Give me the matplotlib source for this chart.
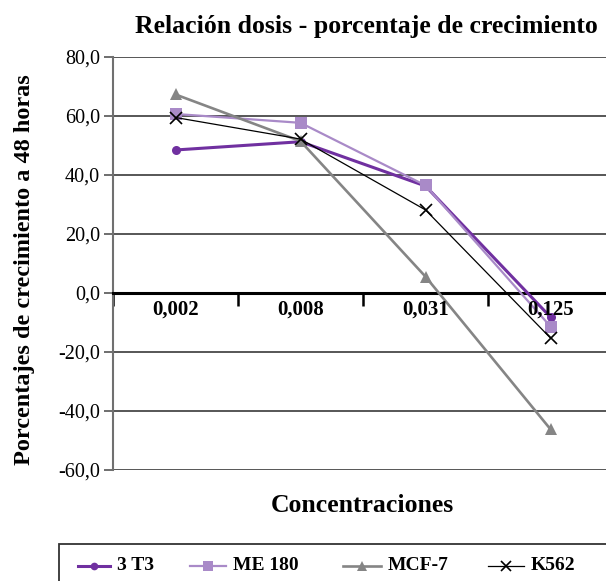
import numpy as np
import matplotlib.pyplot as plt
from matplotlib.lines import Line2D
from matplotlib.patches import Rectangle

plt.rcParams['font.family'] = ['Liberation Serif', 'DejaVu Serif']

# Porcentaje de crecimiento a 48 h por concentración
concentraciones = ['0,002', '0,008', '0,031', '0,125']
t3 = [48.4, 51.2, 36.2, -8.2]
me180 = [60.6, 57.6, 36.4, -11.4]
mcf7 = [67.2, 51.4, 5.5, -46.2]
k562 = [59.4, 52.1, 28.1, -15.3]

series = [
    ('3 T3', t3, '#7030A0', 'o', 2.2, 6.5),
    ('ME 180', me180, '#A98AC8', 's', 1.6, 8.5),
    ('MCF-7', mcf7, '#858585', '^', 1.9, 9),
    ('K562', k562, '#000000', 'x', 0.9, 8),
]

W, H = 606, 581
fig = plt.figure(figsize=(W / 100, H / 100), dpi=100)
ax = fig.add_axes([113 / W, 1 - 470 / H, 500 / W, (470 - 56.7) / H])

x = np.arange(len(concentraciones)) + 0.5
for nombre, vals, color, mk, lw, ms in series:
    ax.plot(x, vals, color=color, marker=mk, lw=lw, ms=ms, label=nombre,
            mew=1.2 if mk == 'x' else 0, zorder=3)

ax.set_xlim(0, len(concentraciones))
ax.set_ylim(-60, 80)
yt = np.arange(-60, 81, 20)
ax.set_yticks(yt)
ax.set_yticklabels([f'{v:.1f}'.replace('.', ',') for v in yt], fontsize=14.5)
ax.grid(axis='y', color='#3a3a3a', lw=1.2)
ax.set_axisbelow(True)

for s in ['top', 'right']:
    ax.spines[s].set_visible(False)
ax.spines['left'].set_color('#707070')
ax.spines['left'].set_linewidth(1.5)
ax.spines['bottom'].set_position(('data', 0))
ax.spines['bottom'].set_linewidth(2.2)
ax.tick_params(axis='y', length=6.5, width=1.2, color='#555555', pad=3)

# marcas de categoría sobre el eje cero
ax.set_xticks(np.arange(len(concentraciones) + 1))
ax.set_xticklabels([])
ax.tick_params(axis='x', direction='out', length=9, width=1.8, color='black')
for xi, lab in zip(x, concentraciones):
    ax.text(xi, -2.2, lab, ha='center', va='top', fontsize=15, fontweight='bold')

fig.text(366 / W, 1 - 27 / H, 'Relación dosis - porcentaje de crecimiento',
         ha='center', va='center', fontsize=18.5, fontweight='bold')
fig.text(25 / W, 1 - 270 / H, 'Porcentajes de crecimiento a 48 horas',
         ha='center', va='center', rotation=90, fontsize=17.5, fontweight='bold')
fig.text(362 / W, 1 - 505 / H, 'Concentraciones',
         ha='center', va='center', fontsize=18.5, fontweight='bold')

# leyenda en recuadro inferior
fig.add_artist(Rectangle((59 / W, -0.05), 0.99, 0.05 + (H - 544) / H,
                         transform=fig.transFigure, fill=False,
                         edgecolor='#333333', lw=1.3))
leg_x = [(78, 117), (190, 233), (343, 388), (488, 531)]
y_leg = 1 - 566 / H
for (nombre, vals, color, mk, lw, ms), (x0, xt) in zip(series, leg_x):
    x1 = xt - 7
    fig.add_artist(Line2D([x0 / W, x1 / W], [y_leg, y_leg], color=color, lw=lw,
                          transform=fig.transFigure))
    fig.add_artist(Line2D([(x0 + x1) / 2 / W], [y_leg], color=color, marker=mk,
                          ms=ms * 0.85, mew=1.2 if mk == 'x' else 0,
                          transform=fig.transFigure))
    fig.text(xt / W, y_leg, nombre, ha='left', va='center',
             fontsize=14, fontweight='bold')

fig.savefig('out.png', dpi=100)
